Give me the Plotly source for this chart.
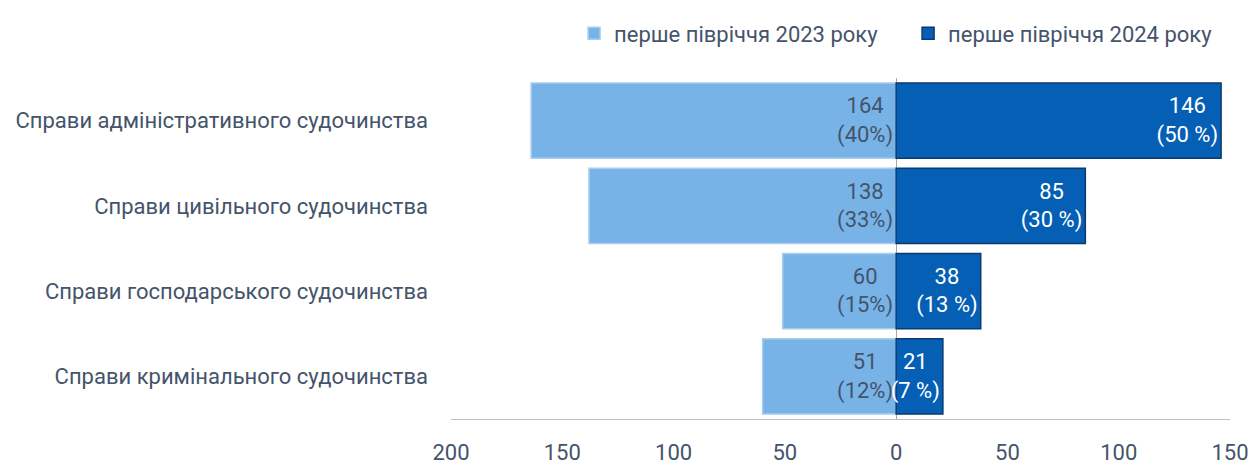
import plotly.graph_objects as go

categories = [
    "Справи адміністративного судочинства",
    "Справи цивільного судочинства",
    "Справи господарського судочинства",
    "Справи кримінального судочинства",
]
# bar lengths as drawn in the picture
values_2023 = [164, 138, 51, 60]
values_2024 = [146, 85, 38, 21]
# data labels as printed on the bars
labels_2023 = ["164<br>(40%)", "138<br>(33%)", "60<br>(15%)", "51<br>(12%)"]
labels_2024 = ["146<br>(50 %)", "85<br>(30 %)", "38<br>(13 %)", "21<br>(7 %)"]
series_names = ["перше півріччя 2023 року", "перше півріччя 2024 року"]
tick_vals = [-200, -150, -100, -50, 0, 50, 100, 150]
tick_text = ["200", "150", "100", "50", "0", "50", "100", "150"]

FONT = "Roboto, 'Open Sans', sans-serif"
TEXT_COL = "#44546A"

fig = go.Figure()
fig.add_trace(go.Bar(
    y=categories, x=[-v for v in values_2023], orientation="h",
    name=series_names[0],
    marker=dict(color="#78B3E8", line=dict(color="#A8CDF0", width=1.5)),
    text=labels_2023, textposition="inside", insidetextanchor="start",
    textfont=dict(family=FONT, size=22, color=TEXT_COL),
    constraintext="none", hoverinfo="skip",
))
fig.add_trace(go.Bar(
    y=categories, x=values_2024, orientation="h",
    name=series_names[1],
    marker=dict(color="#055FB5", line=dict(color="#0B3A6E", width=1.5)),
    text=labels_2024, textposition="inside", insidetextanchor="end",
    textfont=dict(family=FONT, size=22, color="white"),
    constraintext="none", hoverinfo="skip",
))

fig.update_layout(
    width=1249, height=464,
    barmode="relative", bargap=0.12,
    paper_bgcolor="white", plot_bgcolor="white",
    margin=dict(l=451, r=19, t=78, b=45, autoexpand=False),
    font=dict(family=FONT, size=22, color=TEXT_COL),
    legend=dict(orientation="h", x=0.158, xanchor="left", y=0.973, yref="container",
                yanchor="top", font=dict(size=22, color=TEXT_COL),
                itemwidth=30, entrywidth=289, entrywidthmode="pixels",
                traceorder="normal"),
)
fig.update_xaxes(
    range=[-200, 150], tickvals=tick_vals, ticktext=tick_text,
    showgrid=False, zeroline=True, zerolinecolor="#A6A6A6", zerolinewidth=1,
    showline=True, linecolor="#BFBFBF", linewidth=1, ticks="",
    ticklabelstandoff=14, tickfont=dict(size=22, color=TEXT_COL),
    automargin=False,
)
fig.update_yaxes(
    autorange="reversed", showgrid=False, showline=False, ticks="",
    ticklabelstandoff=22, tickfont=dict(size=22, color=TEXT_COL),
    automargin=False,
)

fig.write_html(
    "out.html",
    config={"displayModeBar": False},
    post_script="document.body.style.margin='0';document.body.style.overflow='hidden';",
)
